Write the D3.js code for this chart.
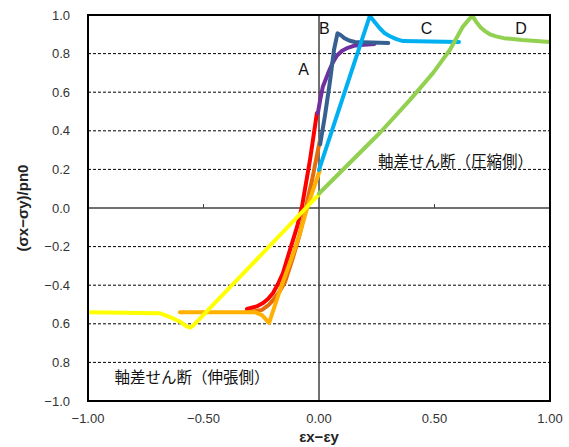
<!DOCTYPE html>
<html>
<head>
<meta charset="utf-8">
<script src="https://cdn.jsdelivr.net/npm/d3@7"></script>
<style>
  body { margin: 0; background: #fff; }
  svg { display: block; }
</style>
</head>
<body>
<div id="chart"></div>
<script>
'use strict';

// Data
const yTicks = [1.0, 0.8, 0.6, 0.4, 0.2, 0.0, -0.2, -0.4, -0.6, -0.8, -1.0];
const yTickLabels = ['1.0', '0.8', '0.6', '0.4', '0.2', '0.0', '\u22120.2', '\u22120.4', '0.6', '0.8', '\u22121.0'];
const xTicks = [-1.0, -0.5, 0.0, 0.5, 1.0];
const xTickLabels = ['\u22121.00', '\u22120.50', '0.00', '0.50', '1.00'];

const redX = [-0.312, -0.27, -0.242, -0.22, -0.199, -0.178, -0.156, -0.126, -0.095, -0.074, -0.039, -0.009];
const redY = [-0.523, -0.51, -0.492, -0.47, -0.44, -0.395, -0.337, -0.218, -0.098, 0.005, 0.249, 0.492];

const darkOrangeX = [-0.299, -0.247, -0.22, -0.199, -0.172, -0.147, -0.113, -0.082, -0.061, -0.030, 0.004];
const darkOrangeY = [-0.539, -0.528, -0.505, -0.477, -0.435, -0.383, -0.259, -0.13, -0.02, 0.145, 0.352];

const amberX = [-0.602, -0.277, -0.247, -0.216, -0.169, -0.117, -0.082, -0.048, 0.004];
const amberY = [-0.54, -0.54, -0.555, -0.595, -0.425, -0.254, -0.13, 0.015, 0.197];

const yellowX = [-1.0, -0.69, -0.645, -0.60, -0.575, -0.558, -0.545, 0.0];
const yellowY = [-0.54, -0.545, -0.565, -0.59, -0.612, -0.62, -0.61, 0.07];

const purpleX = [-0.005, 0.005, 0.017, 0.04, 0.058, 0.078, 0.10, 0.125, 0.15, 0.18, 0.24];
const purpleY = [0.49, 0.56, 0.63, 0.70, 0.75, 0.79, 0.815, 0.83, 0.84, 0.845, 0.85];

const blueX = [0.005, 0.026, 0.048, 0.065, 0.08, 0.095, 0.11, 0.13, 0.155, 0.30];
const blueY = [0.33, 0.48, 0.66, 0.82, 0.905, 0.895, 0.88, 0.868, 0.86, 0.855];

const lightBlueX = [0.0, 0.22, 0.24, 0.264, 0.285, 0.307, 0.335, 0.364, 0.606];
const lightBlueY = [0.197, 0.995, 0.965, 0.93, 0.905, 0.89, 0.875, 0.865, 0.86];

const greenX = [0.0, 0.264, 0.394, 0.494, 0.567, 0.623, 0.655, 0.667, 0.68, 0.70, 0.72, 0.74, 0.77, 0.80, 0.88, 1.0];
const greenY = [0.075, 0.39, 0.56, 0.70, 0.82, 0.94, 0.985, 0.99, 0.965, 0.935, 0.915, 0.90, 0.888, 0.88, 0.87, 0.86];

const series = [
    {name: 'red', color: '#ff0000', x: redX, y: redY},
    {name: 'darkOrange', color: '#e46c0a', x: darkOrangeX, y: darkOrangeY},
    {name: 'amber', color: '#ffb000', x: amberX, y: amberY},
    {name: 'purple', color: '#7030a0', x: purpleX, y: purpleY},
    {name: 'blue', color: '#376092', x: blueX, y: blueY},
    {name: 'lightBlue', color: '#00b0f0', x: lightBlueX, y: lightBlueY},
    {name: 'yellow', color: '#ffff00', x: yellowX, y: yellowY},
    {name: 'green', color: '#92d050', x: greenX, y: greenY}
];

const curveLabels = [
    {text: 'A', x: -0.09, y: 0.69},
    {text: 'B', x: 0.0, y: 0.90},
    {text: 'C', x: 0.44, y: 0.90},
    {text: 'D', x: 0.85, y: 0.90}
];

// Config
const svgW = 569;
const svgH = 447;
const margin = {top: 15, right: 19, bottom: 46, left: 88};
const gW = svgW - margin.left - margin.right;
const gH = svgH - margin.top - margin.bottom;

// Scales
const xScale = d3.scaleLinear().domain([-1, 1]).range([0, gW]);
const yScale = d3.scaleLinear().domain([-1, 1]).range([gH, 0]);
const lineMaker = d3.line()
    .x(d => xScale(d[0]))
    .y(d => yScale(d[1]));

// Svg
const svg = d3.select('#chart')
    .append('svg')
    .attr('width', svgW)
    .attr('height', svgH);
const g = svg.append('g')
    .attr('transform', `translate(${margin.left},${margin.top})`);

// Dashed grid
g.selectAll('.grid')
    .data(yTicks.filter(v => v !== 0 && Math.abs(v) !== 1))
    .join('line')
    .attr('class', 'grid')
    .attr('x1', 0)
    .attr('x2', gW)
    .attr('y1', d => yScale(d))
    .attr('y2', d => yScale(d))
    .attr('stroke', '#000')
    .attr('stroke-width', 1)
    .attr('stroke-dasharray', '3,2');

// Zero axes
g.append('line')
    .attr('x1', 0).attr('x2', gW)
    .attr('y1', yScale(0)).attr('y2', yScale(0))
    .attr('stroke', '#404040').attr('stroke-width', 1.5);
g.append('line')
    .attr('x1', xScale(0)).attr('x2', xScale(0))
    .attr('y1', 0).attr('y2', gH)
    .attr('stroke', '#404040').attr('stroke-width', 1.5);
g.selectAll('.xMinor')
    .data([-0.5, 0.5])
    .join('line')
    .attr('class', 'xMinor')
    .attr('x1', d => xScale(d)).attr('x2', d => xScale(d))
    .attr('y1', yScale(0)).attr('y2', yScale(0) - 4)
    .attr('stroke', '#404040').attr('stroke-width', 1);

// Series
svg.append('clipPath').attr('id', 'plotClip')
    .append('rect').attr('width', gW).attr('height', gH);
g.append('g')
    .attr('clip-path', 'url(#plotClip)')
    .selectAll('.seriesPath')
    .data(series)
    .join('path')
    .attr('class', 'seriesPath')
    .attr('d', d => lineMaker(d.x.map((v, i) => [v, d.y[i]])))
    .attr('fill', 'none')
    .attr('stroke', d => d.color)
    .attr('stroke-width', 4)
    .attr('stroke-linejoin', 'round')
    .attr('stroke-linecap', 'round');

// Border
g.append('rect')
    .attr('width', gW)
    .attr('height', gH)
    .attr('fill', 'none')
    .attr('stroke', '#000')
    .attr('stroke-width', 2);

// Tick labels
const tickFont = '"Liberation Sans", Arial, sans-serif';
g.selectAll('.yLabel')
    .data(yTicks)
    .join('text')
    .attr('class', 'yLabel')
    .attr('x', -18)
    .attr('y', d => yScale(d))
    .attr('dy', '0.35em')
    .attr('text-anchor', 'end')
    .attr('font-family', tickFont)
    .attr('font-size', 13)
    .attr('fill', '#333')
    .text((d, i) => yTickLabels[i]);
g.selectAll('.xLabel')
    .data(xTicks)
    .join('text')
    .attr('class', 'xLabel')
    .attr('x', d => xScale(d))
    .attr('y', gH + 22)
    .attr('text-anchor', 'middle')
    .attr('font-family', tickFont)
    .attr('font-size', 13)
    .attr('fill', '#333')
    .text((d, i) => xTickLabels[i]);

// Axis titles
svg.append('text')
    .attr('transform', `translate(28,${margin.top + yScale(0)}) rotate(-90)`)
    .attr('text-anchor', 'middle')
    .attr('font-family', tickFont)
    .attr('font-size', 15)
    .attr('font-weight', 'bold')
    .attr('fill', '#222')
    .text('(\u03c3x\u2212\u03c3y)/pn0');
svg.append('text')
    .attr('x', margin.left + xScale(0))
    .attr('y', 442)
    .attr('text-anchor', 'middle')
    .attr('font-family', tickFont)
    .attr('font-size', 15)
    .attr('font-weight', 'bold')
    .attr('fill', '#222')
    .text('\u03b5x\u2212\u03b5y');

// Curve letters
g.selectAll('.curveLabel')
    .data(curveLabels)
    .join('text')
    .attr('class', 'curveLabel')
    .attr('x', d => xScale(d.x))
    .attr('y', d => yScale(d.y))
    .attr('font-family', tickFont)
    .attr('font-size', 16)
    .attr('fill', '#111')
    .text(d => d.text);

// Japanese notes
const jpFont = '"Noto Sans CJK JP", sans-serif';
g.append('text')
    .attr('x', xScale(0.255))
    .attr('y', yScale(0.21))
    .attr('font-family', jpFont)
    .attr('font-size', 15.5)
    .attr('fill', '#111')
    .text('軸差せん断（圧縮側）');
g.append('text')
    .attr('x', xScale(-0.885))
    .attr('y', yScale(-0.905))
    .attr('font-family', jpFont)
    .attr('font-size', 15.5)
    .attr('fill', '#111')
    .text('軸差せん断（伸張側）');
</script>
</body>
</html>
